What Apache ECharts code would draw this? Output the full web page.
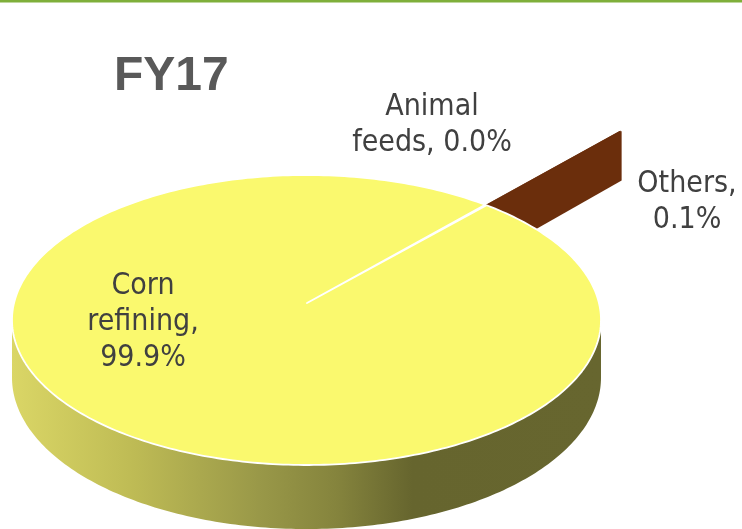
<!DOCTYPE html>
<html><head><meta charset="utf-8">
<script src="https://cdn.jsdelivr.net/npm/echarts@6/dist/echarts.min.js"></script>
<style>html,body{margin:0;padding:0;background:#fff}#c{width:742px;height:529px}</style>
</head><body><div id="c"></div>
<script>
// ---- data ----
const categories = ['Corn refining', 'Animal feeds', 'Others'];
const shares = [99.9, 0.0, 0.1];
const labelTexts = ['Corn\nrefining,\n99.9%', 'Animal\nfeeds, 0.0%', 'Others,\n0.1%'];
const titleText = 'FY17';

// ---- styles / layout ----
const topColors = ['#FAF96E', '#FAF96E', '#6B2E0C'];
const wallColors = ['#8F8E42', '#8F8E42', '#6B2E0C'];
const explode = [0, 0, 0.755];
const L = { cx: 306.5, cy: 320, rx: 294.5, ry: 145, apexX: 307, apexY: 303,
            depthA: 43.3, depthB: 0.0446, startAngle: 52.3 };
const labelAnchor = [[-164, 19], [125, -178], [380, -101]]; // offsets from apex
const labelFont = '30px "DejaVu Sans Condensed", "Noto Sans", sans-serif';

const total = shares.reduce((a, b) => a + b, 0);
const starts = []; { let acc = 0; shares.forEach(v => { starts.push(acc); acc += v; }); }

function edge(phi, ox, oy) {
  const r = phi * Math.PI / 180;
  return [L.cx + L.rx * Math.cos(r) + ox, L.cy - L.ry * Math.sin(r) + oy];
}
function depthAt(y) { return L.depthA + L.depthB * y; }
function arc(a1, a2, ox, oy) {
  const n = Math.max(2, Math.ceil(Math.abs(a2 - a1)));
  const pts = [];
  for (let i = 0; i <= n; i++) pts.push(edge(a1 + (a2 - a1) * i / n, ox, oy));
  return pts;
}
const sideGrad = new echarts.graphic.LinearGradient(L.cx - L.rx, 0, L.cx + L.rx, 0, [
  { offset: 0, color: '#DAD666' }, { offset: 0.2, color: '#BFBC55' },
  { offset: 0.42, color: '#999848' }, { offset: 0.55, color: '#85843D' },
  { offset: 0.68, color: '#66652E' }, { offset: 1, color: '#67662F' }], true);

function renderItem(params, api) {
  const i = params.dataIndex;
  const v = api.value(0);
  const aStart = L.startAngle - starts[i] / total * 360;
  const aEnd = L.startAngle - (starts[i] + v) / total * 360;
  const mid = (aStart + aEnd) / 2;
  const em = edge(mid, 0, 0);
  const ox = (em[0] - L.apexX) * explode[i];
  const oy = (em[1] - L.apexY) * explode[i];
  const apex = [L.apexX + ox, L.apexY + oy];
  const isExp = explode[i] > 0;
  const children = [];
  if (v > 0) {
    // outer cylinder wall (front half only)
    for (let k = -2; k <= 1; k++) {
      const lo = Math.max(aEnd, 180 + 360 * k), hi = Math.min(aStart, 360 + 360 * k);
      if (hi > lo) {
        const topPts = arc(lo, hi, ox, oy);
        const botPts = topPts.slice().reverse().map(p => [p[0], p[1] + depthAt(p[1])]);
        children.push({ type: 'polygon', z2: isExp ? 1 : 2,
          shape: { points: topPts.concat(botPts) },
          style: { fill: isExp ? wallColors[i] : sideGrad } });
      }
    }
    // radial walls for exploded slices
    if (isExp) {
      [aStart, aEnd].forEach(a => {
        const e = edge(a, ox, oy);
        children.push({ type: 'polygon', z2: 1,
          shape: { points: [apex, e, [e[0], e[1] + depthAt(e[1])], [apex[0], apex[1] + depthAt(apex[1])]] },
          style: { fill: wallColors[i] } });
      });
    }
    // top face
    children.push({ type: 'polygon', z2: isExp ? 1.5 : 3,
      shape: { points: [apex].concat(arc(aStart, aEnd, ox, oy)) },
      style: isExp ? { fill: topColors[i] } : { fill: topColors[i], stroke: '#FFFFFF', lineWidth: 1.8, lineJoin: 'round' } });
  }
  children.push({ type: 'text', z2: 10,
    style: { text: labelTexts[i], x: L.apexX + labelAnchor[i][0], y: L.apexY + labelAnchor[i][1],
      fill: '#404040', font: labelFont, align: 'center', verticalAlign: 'middle', lineHeight: 36 } });
  return { type: 'group', children };
}

const chart = echarts.init(document.getElementById('c'), null, { renderer: 'canvas' });
chart.setOption({
  animation: false,
  backgroundColor: '#FFFFFF',
  title: { text: titleText, left: 109, top: 48,
    textStyle: { fontSize: 48, fontWeight: 'bold', color: '#595959', fontFamily: '"Liberation Sans", Arial, sans-serif' } },
  graphic: [{ type: 'rect', left: 0, top: 0, shape: { width: 742, height: 2.5 }, style: { fill: '#7FAF3B' } }],
  series: [{
    type: 'custom', coordinateSystem: 'none', renderItem,
    data: shares.map((v, i) => ({ name: categories[i], value: [v] }))
  }]
});
</script></body></html>
